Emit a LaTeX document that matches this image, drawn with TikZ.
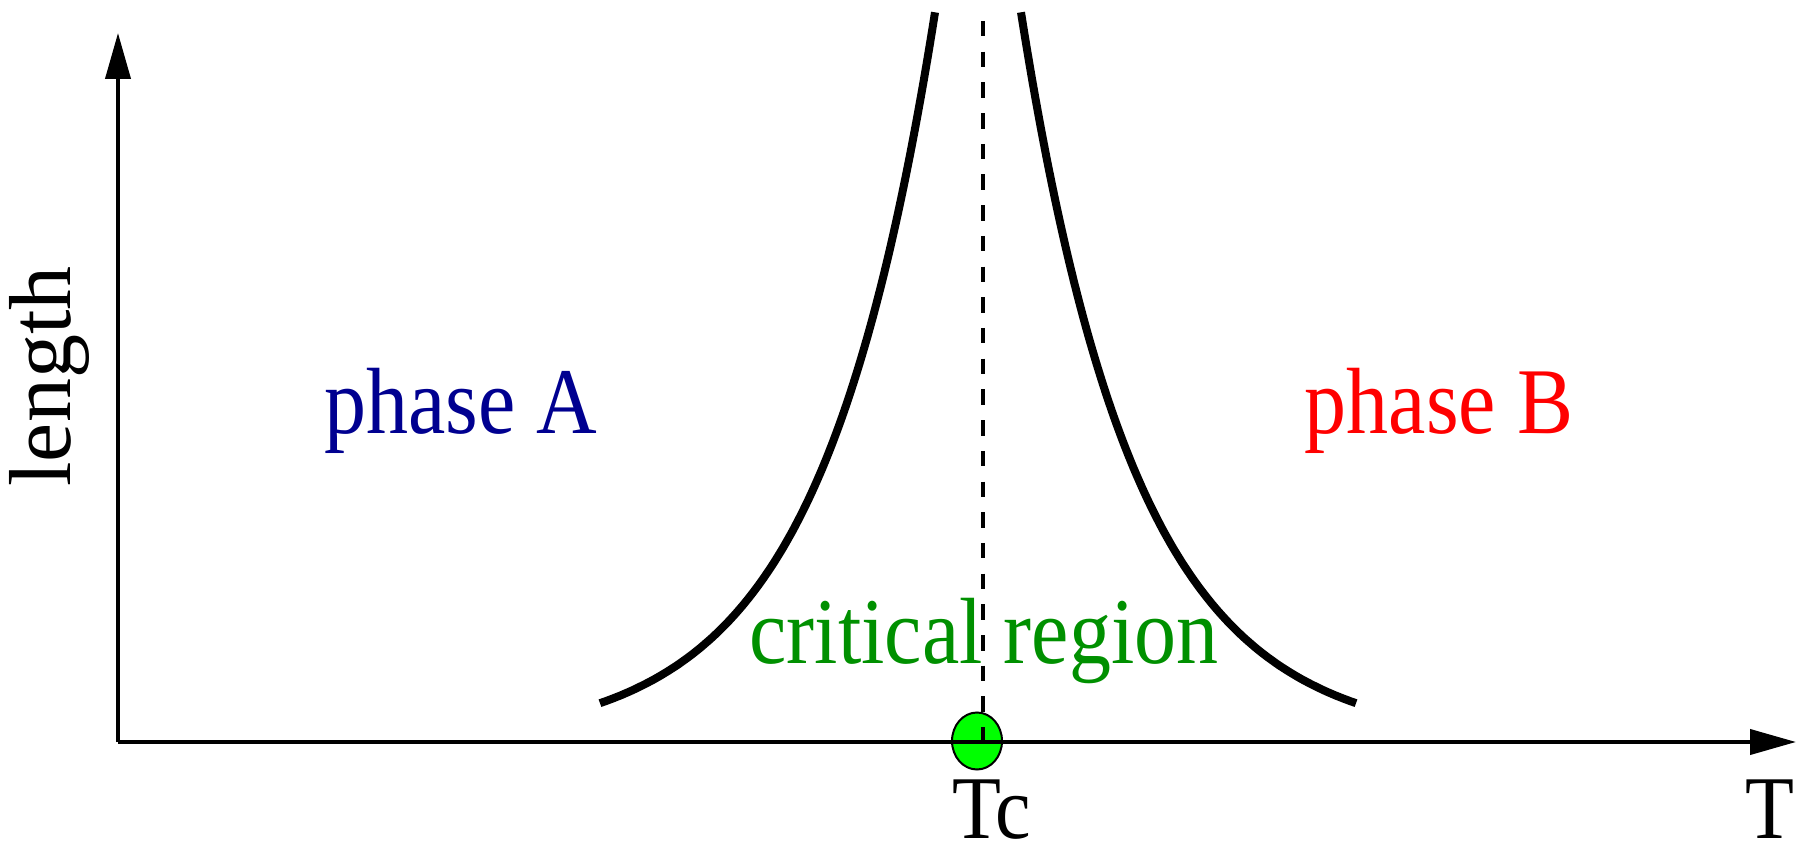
\documentclass[tikz,border=0pt]{standalone}
\usepackage{fontspec}
\setmainfont{Liberation Serif}
\usetikzlibrary{arrows.meta,shapes.geometric}
\definecolor{bluefour}{RGB}{0,0,144}
\definecolor{greenfour}{RGB}{0,144,0}
\definecolor{dotgreen}{RGB}{0,255,0}
\newcommand{\stretchy}[1]{\scalebox{1}[1.12]{#1}}
\begin{document}
\begin{tikzpicture}[x=1pt,y=-1pt,
  lab/.style={inner sep=0pt, anchor=base, font=\fontsize{84}{100}\selectfont},
  small/.style={inner sep=0pt, anchor=base, font=\fontsize{80}{96}\selectfont},
  axisline/.style={line width=4pt, -{Triangle[length=46pt,width=25pt]}},
  curve/.style={line width=8pt},
  dashline/.style={line width=3.5pt, dash pattern=on 15.5pt off 15.2pt},
  ]
\useasboundingbox (0,0) rectangle (1799,858);
\coordinate (O) at (118,742);
\coordinate (ytip) at (118,33);
\coordinate (xtip) at (1796,742);
\coordinate (dtop) at (983,21);
% critical point
\node[draw=black, line width=2pt, fill=dotgreen, ellipse, minimum width=50pt, minimum height=57pt, inner sep=0pt] (tc) at (977,741) {};
% axes
\draw[axisline] (O) -- (ytip);
\draw[axisline] (O) -- (xtip);
% dashed line
\draw[dashline] (dtop) -- (dtop |- O);
% curves (length ~ exp(-|T-Tc|/L))
\draw[curve] plot[domain=43:378, samples=120, variable=\d] ({978-\d},{743-1061*exp(-\d/115.2)});
\draw[curve] plot[domain=43:378, samples=120, variable=\d] ({978+\d},{743-1061*exp(-\d/115.2)});
% labels
\node[lab, text=bluefour] (phaseA) at (460.5,433) {\stretchy{phase A}};
\node[lab, text=red] (phaseB) at (1439,433) {\stretchy{phase B}};
\node[lab, text=greenfour] (crit) at (984,663) {\stretchy{critical region}};
\node[small] (Tclab) at (992,838) {\stretchy{Tc}};
\node[small] (Tlab) at (1770,838) {\stretchy{T}};
\node[inner sep=0pt, anchor=base, rotate=90, font=\fontsize{88}{100}\selectfont] (length) at (70,376.5) {length};
\end{tikzpicture}
\end{document}
